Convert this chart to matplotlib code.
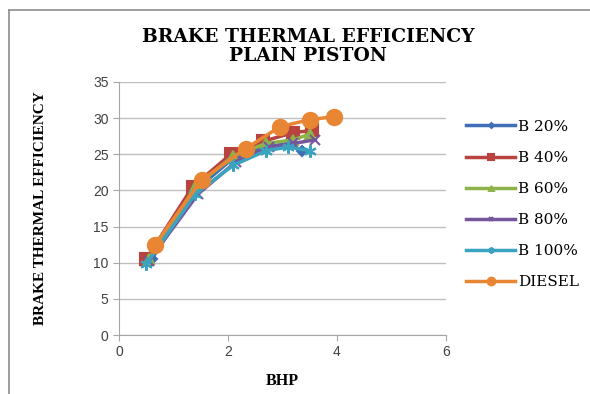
import matplotlib
matplotlib.use("Agg")
import matplotlib.pyplot as plt
from matplotlib.lines import Line2D

series_names = ["B 20%", "B 40%", "B 60%", "B 80%", "B 100%", "DIESEL"]
b20_x = [0.6, 1.4, 2.1, 2.7, 3.1, 3.35]
b20_y = [10.5, 20.0, 24.5, 26.0, 26.5, 25.5]
b40_x = [0.5, 1.35, 2.05, 2.65, 3.2, 3.55]
b40_y = [10.5, 20.5, 25.0, 26.8, 28.0, 28.3]
b60_x = [0.55, 1.4, 2.1, 2.7, 3.2, 3.5]
b60_y = [10.5, 20.5, 24.8, 26.5, 27.0, 27.8]
b80_x = [0.55, 1.45, 2.15, 2.75, 3.2, 3.6]
b80_y = [10.3, 19.5, 24.0, 26.0, 26.5, 27.0]
b100_x = [0.5, 1.4, 2.1, 2.7, 3.1, 3.5]
b100_y = [9.8, 19.5, 23.5, 25.5, 26.0, 25.5]
diesel_x = [0.66, 1.52, 2.33, 2.95, 3.5, 3.95]
diesel_y = [12.5, 21.5, 25.8, 28.8, 29.8, 30.2]

xs = [b20_x, b40_x, b60_x, b80_x, b100_x, diesel_x]
ys = [b20_y, b40_y, b60_y, b80_y, b100_y, diesel_y]
colors = ["#3F6FB6", "#B9433F", "#8DB24A", "#76569B", "#3AA3C0", "#E98633"]
markers = ["D", "s", "^", "x", (6, 2, 0), "o"]
msizes = [5, 8, 7, 7, 9, 11]

fig = plt.figure(figsize=(5.9, 3.94), dpi=100)
ax = fig.add_axes([0.2017, 0.1497, 0.5542, 0.6422])

for x, y, c, m, s, n in zip(xs, ys, colors, markers, msizes, series_names):
    ax.plot(x, y, color=c, marker=m, markersize=s, linewidth=2.5,
            markeredgecolor=c, markeredgewidth=1.5, label=n)

ax.set_xlim(0, 6)
ax.set_ylim(0, 35)
ax.set_xticks([0, 2, 4, 6])
ax.set_yticks(range(0, 36, 5))
ax.yaxis.grid(True, color="#BFBFBF", linewidth=1.0)
ax.set_axisbelow(True)
for sp in ["top", "right"]:
    ax.spines[sp].set_visible(False)
for sp in ["left", "bottom"]:
    ax.spines[sp].set_color("#A6A6A6")
ax.tick_params(axis="both", colors="#A6A6A6", length=4, direction="out",
               labelsize=10, labelcolor="#404040")
for lbl in ax.get_xticklabels() + ax.get_yticklabels():
    lbl.set_family("Liberation Sans")

ax.set_xlabel("BHP", family="Liberation Serif", fontweight="bold", fontsize=11.5, labelpad=10)
ax.set_ylabel("BRAKE THERMAL EFFICIENCY", family="Liberation Serif", fontweight="bold",
              fontsize=11, labelpad=33)

fig.text(0.522, 0.882, "BRAKE THERMAL EFFICIENCY\nPLAIN PISTON", ha="center", va="center",
         family="DejaVu Serif", fontweight="bold", fontsize=13.5, linespacing=1.05)

leg = ax.legend(loc="upper left", bbox_to_anchor=(1.02, 0.905), frameon=False,
                prop={"family": "DejaVu Serif", "size": 11}, handlelength=3.2,
                labelspacing=1.12, handletextpad=0.2, markerscale=0.5)

# outer border lines (left and top)
fig.add_artist(Line2D([9 / 590, 9 / 590], [0, 1 - 10 / 394], transform=fig.transFigure,
                      color="#8C8C8C", linewidth=1.2))
fig.add_artist(Line2D([9 / 590, 1], [1 - 10 / 394, 1 - 10 / 394], transform=fig.transFigure,
                      color="#8C8C8C", linewidth=1.2))

fig.savefig("out.png", dpi=100)
